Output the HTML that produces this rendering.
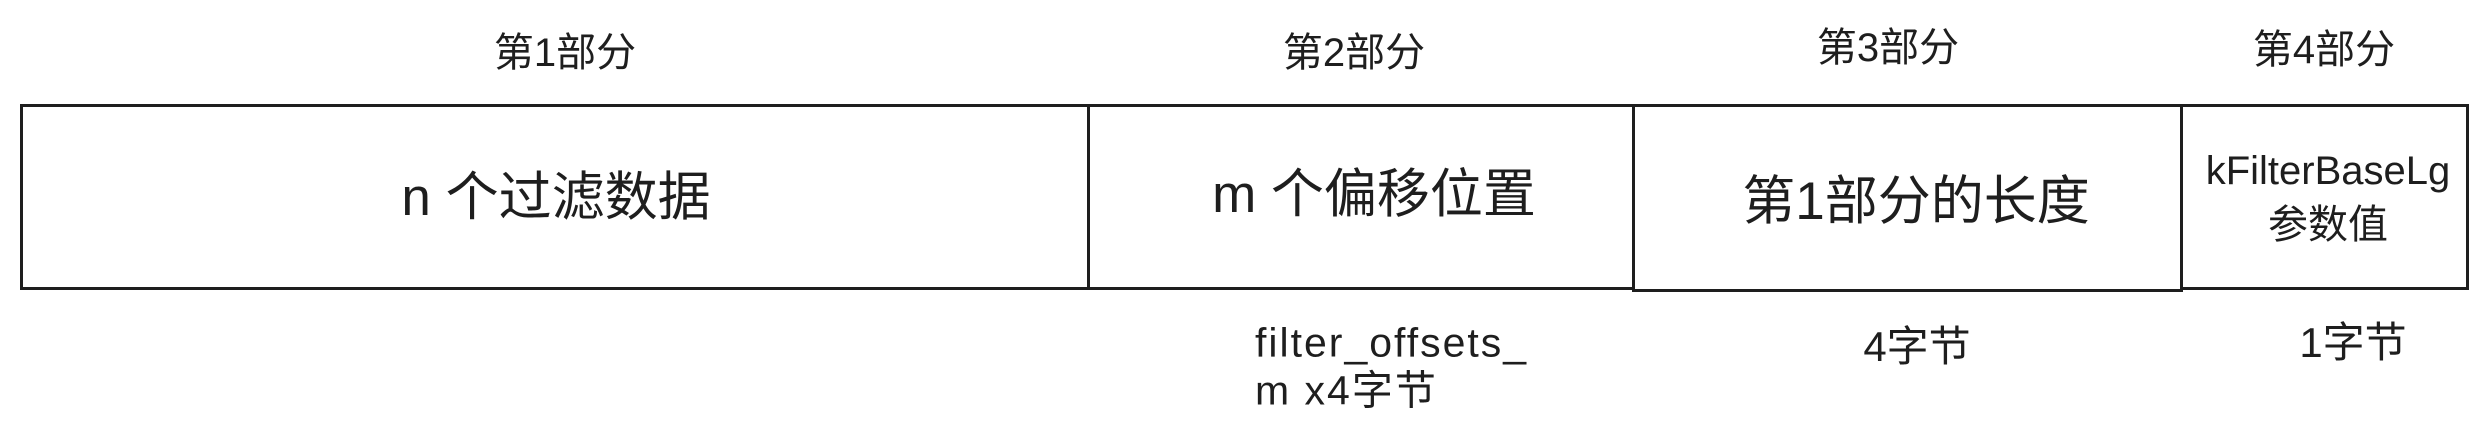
<!DOCTYPE html>
<html><head><meta charset="utf-8"><style>
html,body{margin:0;padding:0;background:#fff;}
body{width:2492px;height:430px;position:relative;overflow:hidden;font-family:"Liberation Sans","Noto Sans CJK SC",sans-serif;color:#1e1e1e;}
.b{position:absolute;border:3px solid #1e1e1e;box-sizing:border-box;}
.t{position:absolute;white-space:nowrap;transform:translate(-50%,-50%);line-height:1.25;text-align:center;}
</style></head><body>
<div class="b" style="left:20px;top:104px;width:1070px;height:186px"></div>
<div class="b" style="left:1087px;top:104px;width:548px;height:186px"></div>
<div class="b" style="left:1632px;top:104px;width:551px;height:188px"></div>
<div class="b" style="left:2180px;top:104px;width:289px;height:186px"></div>

<div class="t" style="left:565px;top:53px;font-size:40px">第1部分</div>
<div class="t" style="left:1354px;top:53px;font-size:40px">第2部分</div>
<div class="t" style="left:1888px;top:48px;font-size:40px">第3部分</div>
<div class="t" style="left:2324px;top:50px;font-size:40px">第4部分</div>

<div class="t" style="left:556px;top:198px;font-size:53px">n 个过滤数据</div>
<div class="t" style="left:1374px;top:195px;font-size:53px">m 个偏移位置</div>
<div class="t" style="left:1916px;top:202px;font-size:53px">第1部分的长度</div>
<div class="t" style="left:2328px;top:198px;font-size:40px;line-height:54px">kFilterBaseLg<br>参数值</div>

<div class="t" style="left:1255px;top:343px;font-size:41px;letter-spacing:2px;transform:translate(0,-50%)">filter_offsets_</div>
<div class="t" style="left:1255px;top:391px;font-size:41px;letter-spacing:2px;transform:translate(0,-50%)">m x4字节</div>
<div class="t" style="left:1917px;top:347px;font-size:42px">4字节</div>
<div class="t" style="left:2353px;top:343px;font-size:42px">1字节</div>
</body></html>
